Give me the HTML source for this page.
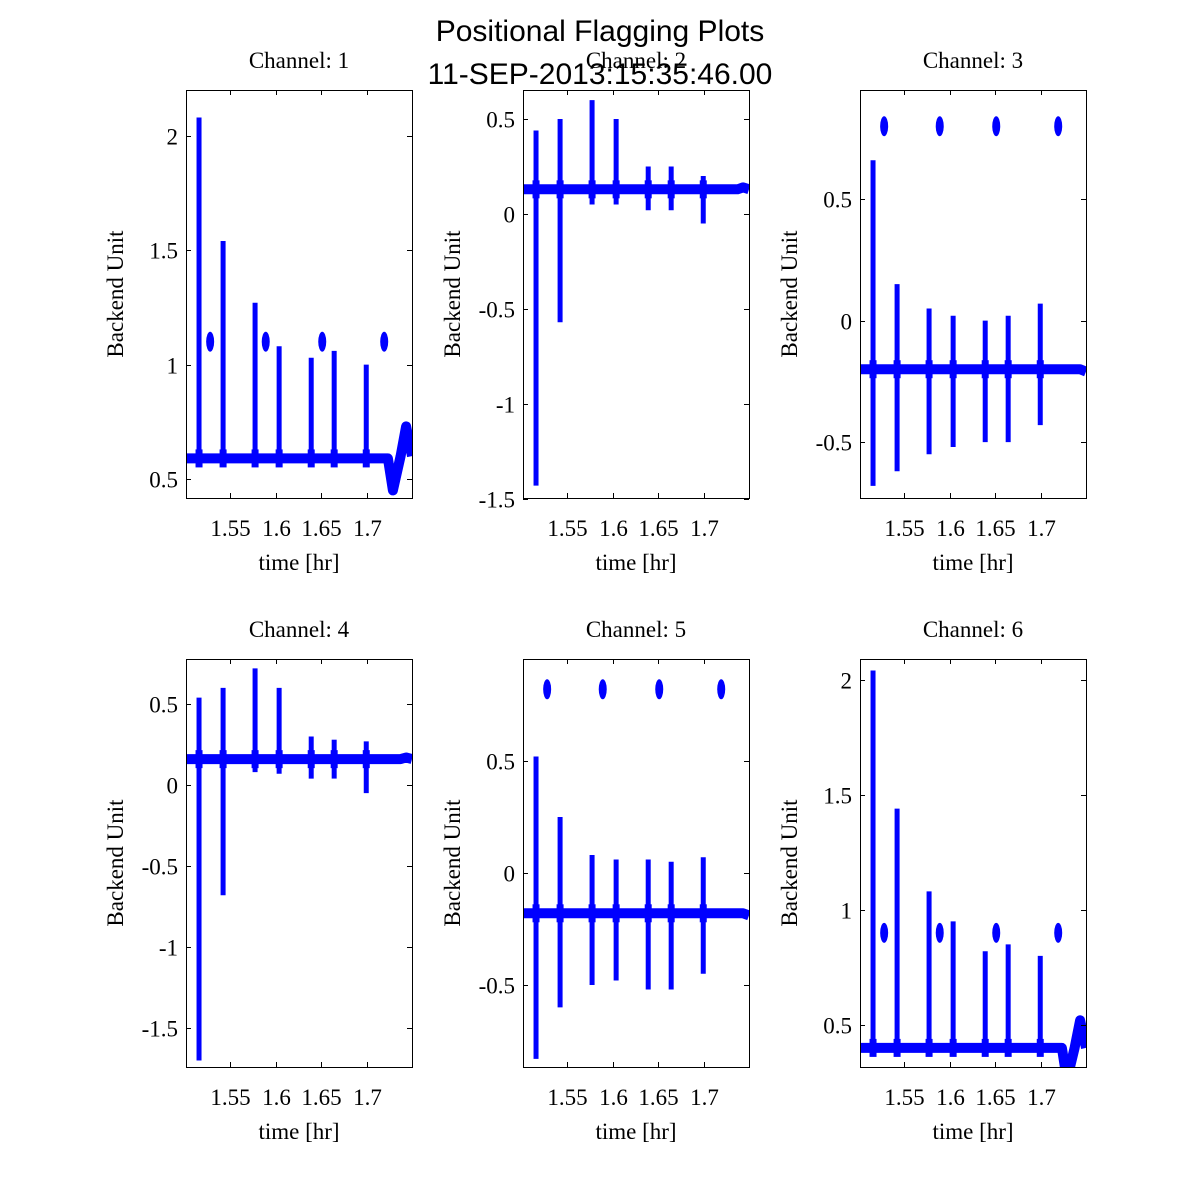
<!DOCTYPE html>
<html><head><meta charset="utf-8">
<style>
html,body{margin:0;padding:0;background:#fff;overflow:hidden;}
svg{display:block;}
svg text{font-family:"Liberation Serif",serif;}
</style></head>
<body>
<svg id="fig" width="1200" height="1200" xmlns="http://www.w3.org/2000/svg">
<rect width="1200" height="1200" fill="#fff"/>
<text x="600" y="41" text-anchor="middle" style="font-family:'Liberation Sans',sans-serif" font-size="30">Positional Flagging Plots</text>
<text x="600" y="84" text-anchor="middle" style="font-family:'Liberation Sans',sans-serif" font-size="30">11-SEP-2013:15:35:46.00</text>
</svg>
<script>
// shared data
const spikeTimes = [1.5158, 1.5422, 1.5773, 1.6037, 1.6389, 1.6641, 1.6993];
const clusterTimes = [1.528, 1.589, 1.651, 1.719];
const xTicks = [1.55, 1.6, 1.65, 1.7];
const xTickLabels = ["1.55", "1.6", "1.65", "1.7"];
// per channel
const ch1Tops = [2.08, 1.54, 1.27, 1.08, 1.03, 1.06, 1.0];
const ch1Bottoms = [0.56, 0.56, 0.56, 0.56, 0.56, 0.56, 0.56];
const ch2Tops = [0.44, 0.5, 0.6, 0.5, 0.25, 0.25, 0.2];
const ch2Bottoms = [-1.43, -0.57, 0.05, 0.05, 0.02, 0.02, -0.05];
const ch3Tops = [0.66, 0.15, 0.05, 0.02, 0.0, 0.02, 0.07];
const ch3Bottoms = [-0.68, -0.62, -0.55, -0.52, -0.5, -0.5, -0.43];
const ch4Tops = [0.54, 0.6, 0.72, 0.6, 0.3, 0.28, 0.27];
const ch4Bottoms = [-1.7, -0.68, 0.08, 0.07, 0.04, 0.04, -0.05];
const ch5Tops = [0.52, 0.25, 0.08, 0.06, 0.06, 0.05, 0.07];
const ch5Bottoms = [-0.83, -0.6, -0.5, -0.48, -0.52, -0.52, -0.45];
const ch6Tops = [2.04, 1.44, 1.08, 0.95, 0.82, 0.85, 0.8];
const ch6Bottoms = [0.37, 0.37, 0.37, 0.37, 0.37, 0.37, 0.37];
const baselineTimes = [1.5015, 1.72, 1.723, 1.7285, 1.737, 1.743, 1.7495];
const ch1Baseline = [0.59, 0.59, 0.59, 0.45, 0.60, 0.73, 0.60];
const ch2Baseline = [0.13, 0.13, 0.13, 0.13, 0.13, 0.14, 0.13];
const ch3Baseline = [-0.2, -0.2, -0.2, -0.2, -0.2, -0.2, -0.21];
const ch4Baseline = [0.16, 0.16, 0.16, 0.16, 0.16, 0.17, 0.16];
const ch5Baseline = [-0.18, -0.18, -0.18, -0.18, -0.18, -0.18, -0.19];
const ch6Baseline = [0.4, 0.4, 0.4, 0.26, 0.40, 0.52, 0.40];
const ch1Cluster = 1.1, ch2Cluster = null, ch3Cluster = 0.8, ch4Cluster = null, ch5Cluster = 0.82, ch6Cluster = 0.9;
const ch1YTicks = [0.5, 1, 1.5, 2];
const ch2YTicks = [-1.5, -1, -0.5, 0, 0.5];
const ch3YTicks = [-0.5, 0, 0.5];
const ch4YTicks = [-1.5, -1, -0.5, 0, 0.5];
const ch5YTicks = [-0.5, 0, 0.5];
const ch6YTicks = [0.5, 1, 1.5, 2];

const NS = "http://www.w3.org/2000/svg";
const svg = document.getElementById('fig');
function mk(tag, attrs, parent) {
  const e = document.createElementNS(NS, tag);
  for (const k in attrs) e.setAttribute(k, attrs[k]);
  (parent || svg).appendChild(e);
  return e;
}
const xDom = [1.5015, 1.7495];
const panels = [
  {n:1, x:186, y:90, yDom:[0.417, 2.2], tops:ch1Tops, bots:ch1Bottoms, base:ch1Baseline, cl:ch1Cluster, yt:ch1YTicks},
  {n:2, x:523, y:90, yDom:[-1.495, 0.653], tops:ch2Tops, bots:ch2Bottoms, base:ch2Baseline, cl:ch2Cluster, yt:ch2YTicks},
  {n:3, x:860, y:90, yDom:[-0.73, 0.949], tops:ch3Tops, bots:ch3Bottoms, base:ch3Baseline, cl:ch3Cluster, yt:ch3YTicks},
  {n:4, x:186, y:659, yDom:[-1.74, 0.778], tops:ch4Tops, bots:ch4Bottoms, base:ch4Baseline, cl:ch4Cluster, yt:ch4YTicks},
  {n:5, x:523, y:659, yDom:[-0.866, 0.955], tops:ch5Tops, bots:ch5Bottoms, base:ch5Baseline, cl:ch5Cluster, yt:ch5YTicks},
  {n:6, x:860, y:659, yDom:[0.317, 2.09], tops:ch6Tops, bots:ch6Bottoms, base:ch6Baseline, cl:ch6Cluster, yt:ch6YTicks},
];
const W = 226, H = 408;
panels.forEach(p => {
  const g = mk('g', {});
  
  
  const sx = t => p.x + (t - xDom[0]) / (xDom[1] - xDom[0]) * W;
  const sy = v => p.y + H - (v - p.yDom[0]) / (p.yDom[1] - p.yDom[0]) * H;
  const cid = 'clip' + p.n;
  const cp = mk('clipPath', {id: cid}, g);
  mk('rect', {x: p.x, y: p.y, width: W, height: H}, cp);
  const data = mk('g', {'clip-path': 'url(#' + cid + ')'}, g);
  const pts = p.base.map((v, i) => sx(baselineTimes[i]).toFixed(1) + ',' + sy(v).toFixed(1)).join(' ');
  const bl = mk('polyline', {points: pts, fill: 'none', stroke: '#0000ff', 'stroke-width': 10, 'stroke-linejoin': 'round'}, data);
  
  
  spikeTimes.forEach((t, i) => {
    const l = mk('line', {x1: sx(t), x2: sx(t), y1: sy(p.tops[i]), y2: sy(p.bots[i]), stroke: '#0000ff', 'stroke-width': 5}, data);
    
    
    const l2 = mk('line', {x1: sx(t), x2: sx(t), y1: sy(p.base[0]) - 9, y2: sy(p.base[0]) + 9, stroke: '#0000ff', 'stroke-width': 7}, data);
    
    
  });
  if (p.cl !== null) {
    clusterTimes.forEach(t => {
      const e = mk('ellipse', {cx: sx(t), cy: sy(p.cl), rx: 4, ry: 10, fill: '#0000ff'}, data);
      
      
    });
  }
  const box = mk('rect', {x: p.x + 0.5, y: p.y + 0.5, width: W, height: H, fill: 'none', stroke: '#000', 'stroke-width': 1}, g);
  
  
  xTicks.forEach((t, i) => {
    const x = Math.round(sx(t)) + 0.5;
    mk('line', {x1: x, x2: x, y1: p.y + H, y2: p.y + H - 5, stroke: '#000'}, g);
    mk('line', {x1: x, x2: x, y1: p.y, y2: p.y + 5, stroke: '#000'}, g);
    const tx = mk('text', {x: x, y: p.y + H + 38, 'text-anchor': 'middle', 'font-size': 23}, g);
    
    
    tx.textContent = xTickLabels[i];
  });
  p.yt.forEach(v => {
    const y = Math.round(sy(v)) + 0.5;
    mk('line', {x1: p.x, x2: p.x + 5, y1: y, y2: y, stroke: '#000'}, g);
    mk('line', {x1: p.x + W, x2: p.x + W - 5, y1: y, y2: y, stroke: '#000'}, g);
    const tx = mk('text', {x: p.x - 8, y: y + 8, 'text-anchor': 'end', 'font-size': 23}, g);
    
    
    tx.textContent = String(v);
  });
  const xl = mk('text', {x: p.x + W / 2, y: p.y + H + 72, 'text-anchor': 'middle', 'font-size': 23}, g);
  
  
  xl.textContent = 'time [hr]';
  const yx = p.x - 63, yy = p.y + H / 2;
  const yl = mk('text', {x: yx, y: yy, 'text-anchor': 'middle', 'font-size': 23, transform: 'rotate(-90 ' + yx + ' ' + yy + ')'}, g);
  
  
  yl.textContent = 'Backend Unit';
  const tt = mk('text', {x: p.x + W / 2, y: p.y - 22, 'text-anchor': 'middle', 'font-size': 23}, g);
  
  
  tt.textContent = 'Channel: ' + p.n;
});
</script>
</body></html>
